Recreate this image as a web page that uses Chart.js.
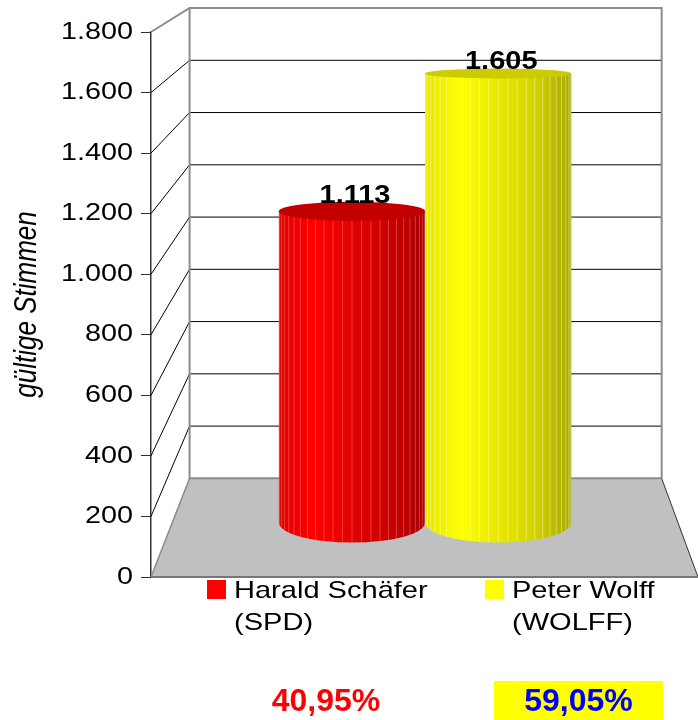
<!DOCTYPE html>
<html>
<head>
<meta charset="utf-8">
<script src="https://cdn.jsdelivr.net/npm/chart.js@4.4.1/dist/chart.umd.min.js"></script>
<style>
  html, body { margin: 0; padding: 0; background: #fff; overflow: hidden; }
  canvas { display: block; }
</style>
</head>
<body>
<canvas id="stimmenChart" width="698" height="720"></canvas>
<script>
// Daten
const kandidaten = ['Harald Schäfer (SPD)', 'Peter Wolff (WOLFF)'];
const legendenZeilen = [['Harald Schäfer', '(SPD)'], ['Peter Wolff', '(WOLFF)']];
const stimmen = [1113, 1605];
const farben = ['#ff0000', '#ffff00'];
const yMin = 0, yMax = 1800, yStep = 200;
const achsenTitel = 'gültige Stimmen';

const FONT = '"Liberation Sans", Arial, Helvetica, sans-serif';
Chart.defaults.font.family = FONT;

const fmt = n => String(n).replace(/\B(?=(\d{3})+(?!\d))/g, '.');
const summe = stimmen.reduce((a, b) => a + b, 0);
const prozente = stimmen.map(v => (v / summe * 100).toFixed(2).replace('.', ',') + '%');

// zylinder-schattierung je farbe
const schatten = {
  '#ff0000': { stops: ['#e00000', '#ff0000', '#e20000', '#cc0000', '#a80000'], deckel: '#c20000', linie: 'rgba(255,170,170,0.35)' },
  '#ffff00': { stops: ['#e6e600', '#ffff00', '#e8e800', '#d2d200', '#a8a800'], deckel: '#cccc00', linie: 'rgba(255,255,200,0.45)' }
};

// einfache perspektive: rückwand = chartArea skaliert um fluchtpunkt
const BACK = 0.863, MID = 0.925;
const STRECK = 1.2; // das original ist in der breite gezogen
function fluchtpunkt(ca) {
  return { x: ca.left + (ca.right - ca.left) * 0.515, y: ca.top - 175 };
}
function proj(p, x, y, s) {
  return [p.x + (x - p.x) * s, p.y + (y - p.y) * s];
}
function linie(ctx, pts, color, w) {
  ctx.beginPath();
  ctx.moveTo(pts[0][0], pts[0][1]);
  for (let i = 1; i < pts.length; i++) ctx.lineTo(pts[i][0], pts[i][1]);
  ctx.strokeStyle = color;
  ctx.lineWidth = w;
  ctx.stroke();
}
function breitText(ctx, t, x, y, sx, rot) {
  ctx.save();
  ctx.translate(x, y);
  ctx.scale(sx, 1);
  if (rot) ctx.rotate(rot);
  ctx.fillText(t, 0, 0);
  ctx.restore();
}

const raumPlugin = {
  id: 'raum',
  beforeDatasetsDraw(chart) {
    const ctx = chart.ctx, ca = chart.chartArea, ys = chart.scales.y;
    const p = fluchtpunkt(ca);
    const [bl, bt] = proj(p, ca.left, ca.top, BACK);
    const [br, bb] = proj(p, ca.right, ca.bottom, BACK);
    ctx.save();
    // boden
    ctx.beginPath();
    ctx.moveTo(ca.left, ca.bottom);
    ctx.lineTo(ca.right, ca.bottom);
    ctx.lineTo(br, bb);
    ctx.lineTo(bl, bb);
    ctx.closePath();
    ctx.fillStyle = '#c0c0c0';
    ctx.fill();
    // gitterlinien seitenwand + rückwand
    for (let v = yMin + yStep; v < yMax; v += yStep) {
      const fy = ys.getPixelForValue(v);
      const [bx, by] = proj(p, ca.left, fy, BACK);
      linie(ctx, [[ca.left, fy], [bx, by], [br, by]], '#000', 1);
    }
    // kanten
    linie(ctx, [[ca.left, ca.top], [bl, bt], [br, bt], [br, bb]], '#8c8c8c', 2);
    linie(ctx, [[bl, bt], [bl, bb], [br, bb]], '#8c8c8c', 2);
    linie(ctx, [[ca.left, ca.bottom], [bl, bb]], '#8c8c8c', 1.5);
    linie(ctx, [[br, bb], [ca.right, ca.bottom]], '#333', 1);
    linie(ctx, [[ca.left, ca.bottom], [ca.right, ca.bottom]], '#777', 2);
    ctx.restore();
  },
  beforeDatasetDraw() {
    return false;
  },
  afterDatasetsDraw(chart) {
    const ctx = chart.ctx, ca = chart.chartArea;
    const p = fluchtpunkt(ca);
    const horizont = ca.top - 108;
    ctx.save();
    chart.data.datasets.forEach((ds, i) => {
      const bar = chart.getDatasetMeta(i).data[0];
      if (!bar) return;
      const [cx, topY] = proj(p, bar.x, bar.y, MID);
      const [, botY] = proj(p, bar.x, bar.base, MID);
      const r = bar.width / 2 * MID;
      const ryT = 0.0334 * (topY - horizont);
      const ryB = 0.0334 * (botY - horizont);
      const st = schatten[ds.backgroundColor];
      const left = cx - r, right = cx + r;

      const g = ctx.createLinearGradient(left, 0, right, 0);
      st.stops.forEach((c, k) => g.addColorStop(k / (st.stops.length - 1), c));
      ctx.beginPath();
      ctx.moveTo(left, topY);
      ctx.lineTo(left, botY);
      ctx.ellipse(cx, botY, r, ryB, 0, Math.PI, 0, true);
      ctx.lineTo(right, topY);
      ctx.closePath();
      ctx.fillStyle = g;
      ctx.fill();

      // facetten
      const N = 24;
      ctx.strokeStyle = st.linie;
      ctx.lineWidth = 1;
      for (let k = 1; k < N; k++) {
        const a = Math.PI * k / N;
        const x = cx - r * Math.cos(a);
        ctx.beginPath();
        ctx.moveTo(x, topY + ryT * Math.sin(a));
        ctx.lineTo(x, botY + ryB * Math.sin(a));
        ctx.stroke();
      }

      // deckel
      ctx.beginPath();
      ctx.ellipse(cx, topY, r, ryT, 0, 0, Math.PI * 2);
      ctx.fillStyle = st.deckel;
      ctx.fill();

      // wert
      ctx.fillStyle = '#000';
      ctx.font = 'bold 25px ' + FONT;
      ctx.textAlign = 'center';
      ctx.textBaseline = 'alphabetic';
      breitText(ctx, fmt(stimmen[i]), cx + 3, topY - ryT + 1, 1.16);
    });
    ctx.restore();
  },
  afterDraw(chart) {
    const ctx = chart.ctx, ys = chart.scales.y, ca = chart.chartArea;
    ctx.save();
    ctx.fillStyle = '#000';
    // y-beschriftung
    ctx.font = '24px ' + FONT;
    ctx.textAlign = 'right';
    ctx.textBaseline = 'middle';
    ys.ticks.forEach(t => breitText(ctx, fmt(t.value), ca.left - 18, ys.getPixelForValue(t.value), STRECK));
    // achsentitel
    ctx.font = 'italic 26px ' + FONT;
    ctx.textAlign = 'center';
    breitText(ctx, achsenTitel, 27, (ca.top + ca.bottom) / 2, STRECK, -Math.PI / 2);
    // legende
    const legX = [207, 485];
    ctx.font = '24px ' + FONT;
    ctx.textAlign = 'left';
    ctx.textBaseline = 'alphabetic';
    chart.data.datasets.forEach((ds, i) => {
      ctx.fillStyle = ds.backgroundColor;
      ctx.fillRect(legX[i], 580, 19, 19);
      ctx.fillStyle = '#000';
      legendenZeilen[i].forEach((t, z) => breitText(ctx, t, legX[i] + 27, 598 + z * 32, 1.21));
    });
    // prozente
    const pX = [326, 578.5];
    const pFarbe = ['#ff0000', '#0000ff'];
    ctx.fillStyle = '#ffff00';
    ctx.fillRect(494, 681, 169, 39);
    ctx.font = 'bold 32px ' + FONT;
    ctx.textAlign = 'center';
    prozente.forEach((t, i) => {
      ctx.fillStyle = pFarbe[i];
      ctx.fillText(t, pX[i], 711);
    });
    ctx.restore();
  }
};

const ctx = document.getElementById('stimmenChart').getContext('2d');
new Chart(ctx, {
  type: 'bar',
  data: {
    labels: [''],
    datasets: kandidaten.map((k, i) => ({
      label: k,
      data: [stimmen[i]],
      backgroundColor: farben[i],
      barPercentage: 1,
      categoryPercentage: 0.578
    }))
  },
  options: {
    responsive: false,
    animation: false,
    events: [],
    layout: { padding: { top: 32, bottom: 143, left: 0, right: 0 } },
    plugins: { legend: { display: false }, tooltip: { enabled: false } },
    scales: {
      x: { display: false },
      y: {
        min: yMin,
        max: yMax,
        afterFit(scale) { scale.width = 151; },
        ticks: {
          stepSize: yStep,
          color: 'rgba(0,0,0,0)', // beschriftung zeichnet das plugin (gestreckt)
          padding: 8,
          font: { size: 24 },
          callback: v => fmt(v)
        },
        grid: { drawOnChartArea: false, drawTicks: true, tickLength: 10, color: '#333', lineWidth: 1 },
        border: { display: true, color: '#333', width: 1.5 },
        title: { display: false }
      }
    }
  },
  plugins: [raumPlugin]
});
</script>
</body>
</html>
